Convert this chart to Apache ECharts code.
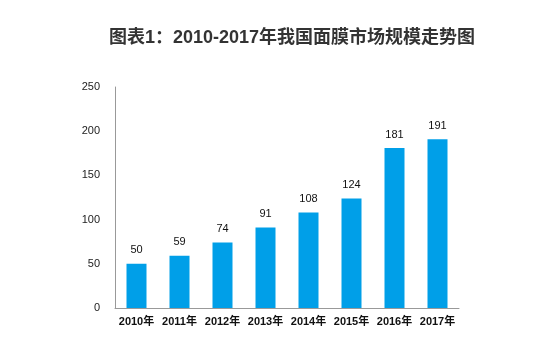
<!DOCTYPE html>
<html><head><meta charset="utf-8">
<script src="https://cdn.jsdelivr.net/npm/echarts@6/dist/echarts.min.js"></script>
<style>html,body{margin:0;padding:0;background:#fff}#c{width:550px;height:349px}</style>
</head><body><div id="c"></div>
<script>
var titleText = '图表1：2010-2017年我国面膜市场规模走势图';
var categories = ['2010年','2011年','2012年','2013年','2014年','2015年','2016年','2017年'];
var values = [50, 59, 74, 91, 108, 124, 181, 191];
var yTicks = {min: 0, max: 250, interval: 50};

var chart = echarts.init(document.getElementById('c'));
chart.setOption({
  animation: false,
  backgroundColor: '#fff',
  title: {
    text: titleText, left: 287, top: 24, textAlign: 'center',
    textStyle: {fontFamily: '"Liberation Sans", Arial, "Noto Sans CJK SC", sans-serif', fontWeight: 'bold', fontSize: 18, color: '#333'}
  },
  grid: {left: 115, right: 91, top: 87, bottom: 41},
  xAxis: {
    type: 'category', data: categories,
    axisLine: {lineStyle: {color: '#999'}},
    axisTick: {show: false},
    axisLabel: {interval: 0, color: '#111', fontSize: 11, fontWeight: 'bold', margin: 8, fontFamily: '"Liberation Sans", "Noto Sans CJK SC", sans-serif'}
  },
  yAxis: {
    type: 'value', min: yTicks.min, max: yTicks.max, interval: yTicks.interval,
    axisLine: {show: true, lineStyle: {color: '#999'}},
    axisTick: {show: false},
    splitLine: {show: false},
    axisLabel: {color: '#222', fontSize: 11, margin: 15, fontFamily: '"Liberation Sans", Arial, sans-serif'}
  },
  series: [{
    type: 'bar', data: values, barWidth: 20,
    itemStyle: {color: '#009fe8'},
    label: {show: true, position: 'top', distance: 8, color: '#111', fontSize: 11, fontFamily: '"Liberation Sans", Arial, sans-serif'}
  }]
});
</script></body></html>
